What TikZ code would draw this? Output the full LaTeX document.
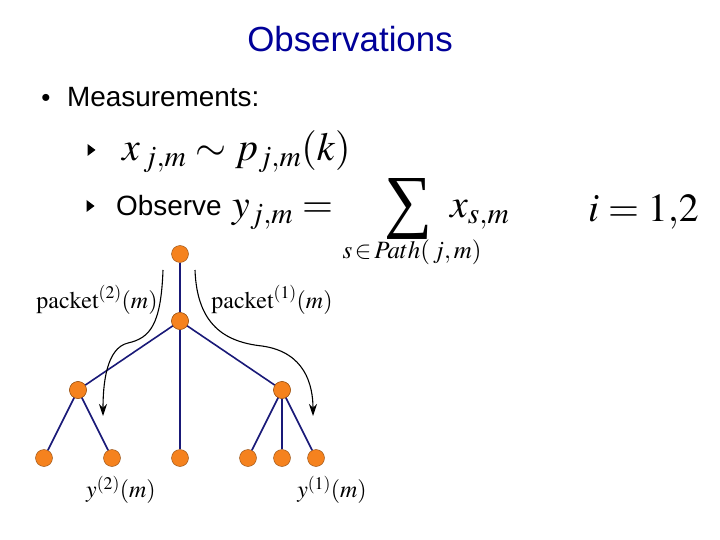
\documentclass[tikz,border=0pt]{standalone}
\usepackage{mathptmx}
\usepackage[no-math]{fontspec}
\setmainfont{Liberation Serif}
\setsansfont{Liberation Sans}
\usepackage{xcolor}
\usepackage{tikz}
\usetikzlibrary{arrows.meta}
\definecolor{titleblue}{RGB}{0,0,153}
\definecolor{dotorange}{RGB}{245,130,30}
\definecolor{edgenavy}{RGB}{25,25,120}
\newcommand\bigmath{\fontsize{40}{44}\selectfont}
\newcommand\midmath{\fontsize{25}{28}\selectfont}

\begin{document}
\begin{tikzpicture}[x=1bp, y=-1bp, >={Stealth[length=12bp,width=8bp]},
  dot/.style={circle, fill=dotorange, draw=dotorange!60!black, line width=0.4bp, inner sep=0pt, minimum size=17bp},
  edge/.style={draw=edgenavy, line width=1.6bp},
  every node/.style={inner sep=0pt}]
  \useasboundingbox[fill=white] (0,0) rectangle (720,540);

  \node[font=\sffamily\fontsize{35}{40}\selectfont, text=titleblue, anchor=base] (title) at (350,52) {Observations};
  \node[font=\sffamily\fontsize{26}{30}\selectfont] (bul) at (46,100) {•};
  \node[font=\sffamily\fontsize{28}{32}\selectfont, anchor=base west] (meas) at (67,107) {Measurements:};

  \coordinate (tri1) at (91,150);
  \fill (tri1) ++(-3.5,-6) -- ++(8,6) -- ++(-8,6) -- cycle;
  \node[font=\bigmath, anchor=base west] (law) at (122,161) {$x_{\,j,m}\sim p_{j,m}(k)$};
  \coordinate (tri2) at (90,206);
  \fill (tri2) ++(-3.5,-6) -- ++(8,6) -- ++(-8,6) -- cycle;
  \node[font=\sffamily\fontsize{28}{32}\selectfont, anchor=base west] (obs) at (116,216) {Observe};
  \node[font=\bigmath, anchor=base west] (lhs) at (232,218) {$y_{j,m}=$};
  \node (sum) at (408,209) {\resizebox{48bp}{46bp}{\rmfamily ∑}};
  \node[font=\midmath] (path) at (412,252) {$s\!\in\! Path(\,j,m)$};
  \node[font=\bigmath, anchor=base west] (xsm) at (450,218) {$x_{s,m}$};
  \node[font=\bigmath, anchor=base west] (idx) at (588,222) {$i=1{,}2$};

  % tree
  \node[dot] (root) at (180,254) {};
  \node[dot] (mid) at (180,321) {};
  \node[dot] (lft) at (78,390) {};
  \node[dot] (rgt) at (282,390) {};
  \node[dot] (l1) at (44,458) {};
  \node[dot] (l2) at (112,458) {};
  \node[dot] (l3) at (180,458) {};
  \node[dot] (l4) at (248,458) {};
  \node[dot] (l5) at (282,458) {};
  \node[dot] (l6) at (316,458) {};
  \draw[edge] (root) -- (mid);
  \draw[edge] (mid.center) -- (lft);
  \draw[edge] (mid.center) -- (rgt);
  \draw[edge] (mid) -- (l3);
  \draw[edge] (lft.center) -- (l1);
  \draw[edge] (lft.center) -- (l2);
  \draw[edge] (rgt.center) -- (l4);
  \draw[edge] (rgt) -- (l5);
  \draw[edge] (rgt.center) -- (l6);
  \foreach \n in {mid,lft,rgt}
    \node[dot] at (\n) {};

  % packet paths
  \coordinate (in2) at (163,270);
  \coordinate (out2) at (103,416);
  \coordinate (in1) at (195,270);
  \coordinate (out1) at (313,416);
  \draw[->, line width=1.1bp] (in2) .. controls (161,325) and (150,338) .. (128,343)
    .. controls (106,348) and (103,385) .. (out2);
  \draw[->, line width=1.1bp] (in1) .. controls (197,325) and (225,342) .. (262,346)
    .. controls (305,352) and (313,385) .. (out1);

  \node[font=\fontsize{24}{28}\selectfont] (pk2) at (97,300) {$\mathrm{packet}^{(2)}(m)$};
  \node[font=\fontsize{24}{28}\selectfont] (pk1) at (272,300) {$\mathrm{packet}^{(1)}(m)$};
  \node[font=\fontsize{24}{28}\selectfont] (y2) at (121,490) {$y^{(2)}(m)$};
  \node[font=\fontsize{24}{28}\selectfont] (y1) at (332,490) {$y^{(1)}(m)$};
\end{tikzpicture}
\end{document}
